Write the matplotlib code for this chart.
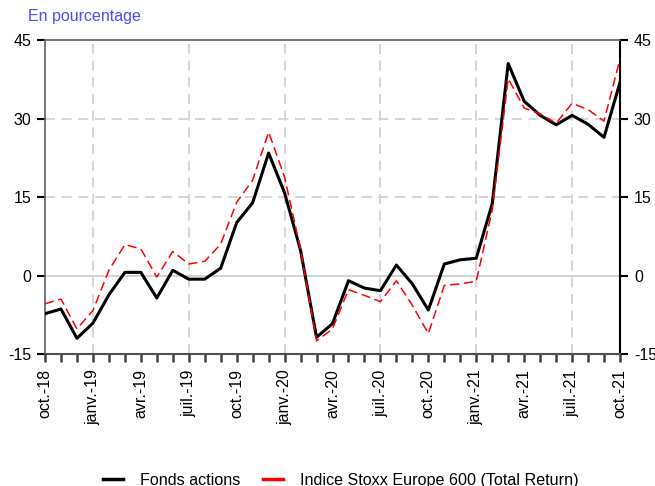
import matplotlib.pyplot as plt
import numpy as np
import pandas as pd

plt.rcParams["font.family"] = ["Liberation Sans", "DejaVu Sans"]
plt.rcParams["axes.unicode_minus"] = False

# monthly data, oct. 2018 -> oct. 2021
months = pd.date_range("2018-10-01", "2021-10-01", freq="MS")

fonds_actions = [-7.3, -6.4, -12.0, -9.1, -3.7, 0.6, 0.6, -4.3, 1.0, -0.7, -0.7, 1.4,
                 10.1, 13.9, 23.4, 15.8, 4.8, -11.8, -9.2, -1.0, -2.4, -2.9, 2.0, -1.6,
                 -6.6, 2.2, 3.0, 3.3, 13.7, 40.5, 33.3, 30.6, 28.8, 30.6, 28.9, 26.4,
                 36.9]
stoxx_600 = [-5.4, -4.5, -10.2, -6.7, 1.0, 5.9, 5.1, -0.3, 4.6, 2.2, 2.7, 6.0,
             14.0, 18.2, 27.4, 18.8, 5.0, -12.5, -10.2, -2.7, -3.8, -5.0, -1.0, -5.7,
             -11.1, -1.9, -1.6, -1.1, 12.5, 37.6, 32.0, 30.9, 29.1, 32.9, 31.7, 29.5,
             41.4]

mois_fr = {1: "janv.", 4: "avr.", 7: "juil.", 10: "oct."}
yticks = [-15, 0, 15, 30, 45]

fig = plt.figure(figsize=(6.55, 4.86), dpi=100)
ax = fig.add_axes([45 / 655, 132 / 486, 575 / 655, 314 / 486])

x = np.arange(len(months))
ax.plot(x, fonds_actions, color="black", lw=2.2, label="Fonds actions", zorder=3)
ax.plot(x, stoxx_600, color="red", lw=1.1, ls=(0, (6, 3)),
        label="Indice Stoxx Europe 600 (Total Return)", zorder=3)

ax.set_xlim(0, len(months) - 1)
ax.set_ylim(-15, 45)

# grid
for y in [15, 30]:
    ax.axhline(y, color="#d0d0d0", lw=1.2, ls=(0, (6, 4)), zorder=1)
ax.axhline(0, color="#cccccc", lw=1.2, zorder=1)
for i, m in enumerate(months):
    if m.month in (1, 7):
        ax.axvline(i, color="#d0d0d0", lw=1.2, ls=(0, (6, 4)), zorder=1)

# x ticks: one per month, label every quarter
ax.set_xticks(x)
labels = [f"{mois_fr[m.month]}-{m.strftime('%y')}" if m.month in mois_fr else "" for m in months]
ax.set_xticklabels(labels, rotation=90, fontsize=11.5)
ax.tick_params(axis="x", length=6, width=1.8, color="#404040", pad=5)

ax.set_yticks(yticks)
ax.tick_params(axis="y", labelsize=11.5, length=6, width=1.5, color="#404040", pad=4)
ax.tick_params(axis="y", which="both", right=True, labelright=True, colors="black")

for side in ["left", "top"]:
    ax.spines[side].set_color("#606060")
    ax.spines[side].set_linewidth(1.2)
ax.spines["bottom"].set_color("#505050")
ax.spines["bottom"].set_linewidth(1.5)
ax.spines["right"].set_color("black")
ax.spines["right"].set_linewidth(1.5)

fig.text(28 / 655, 1 - 17 / 486, "En pourcentage", color="#4b4bff", fontsize=11.5, va="center")

fig.legend(loc="center", bbox_to_anchor=(341 / 655, 6 / 486), ncol=2, frameon=False,
           fontsize=11.6, handlelength=1.25, handletextpad=1.05, columnspacing=1.4,
           handles=[plt.Line2D([], [], color="black", lw=2.5),
                    plt.Line2D([], [], color="red", lw=2.5)],
           labels=["Fonds actions", "Indice Stoxx Europe 600 (Total Return)"])

fig.savefig("out.png", dpi=100)
